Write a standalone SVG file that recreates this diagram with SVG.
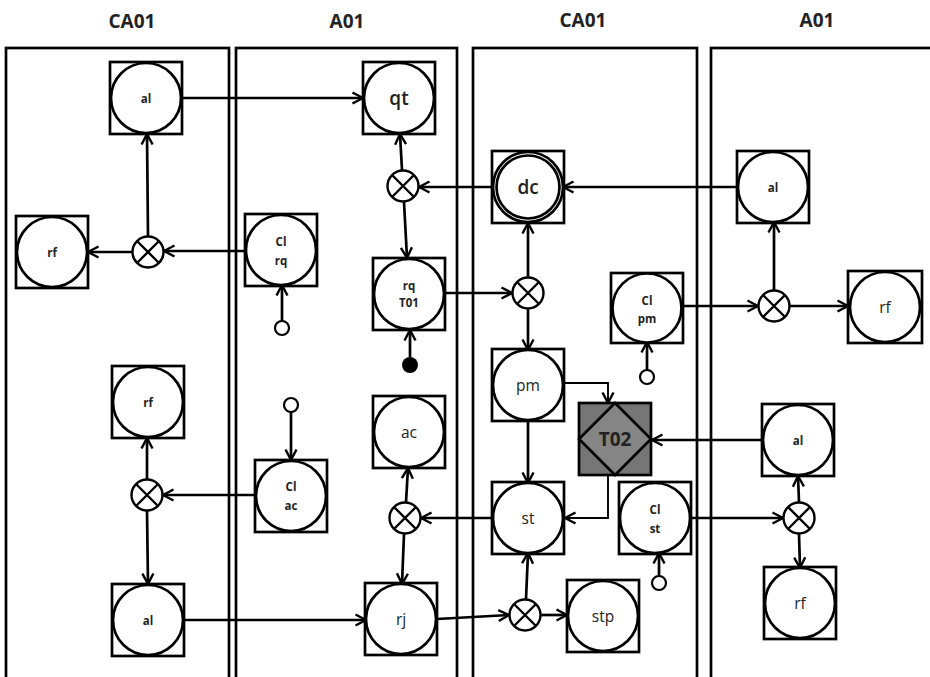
<svg xmlns="http://www.w3.org/2000/svg" width="930" height="677" viewBox="0 0 930 677">
<defs>
<style>
.lane{fill:none;stroke:#000;stroke-width:2.7}
.hdr{font-family:"Open Sans","Liberation Sans",sans-serif;font-weight:bold;font-size:19px;fill:#222;text-anchor:middle}
.sq{fill:#fff;stroke:#000;stroke-width:2.7}
.ci{fill:#fff;stroke:#000;stroke-width:2.7}
.lb{font-family:"Open Sans","Liberation Sans",sans-serif;fill:#222;text-anchor:middle;dominant-baseline:central}
.s{font-size:11.5px;font-weight:bold}
.m{font-size:15.5px}
.l{font-size:19px;font-weight:600}
.x{fill:#fff;stroke:#000;stroke-width:2.4}
.xl{stroke:#000;stroke-width:2.4}
.c{fill:none;stroke:#000;stroke-width:2.7;marker-end:url(#a)}
.t{fill:none;stroke:#000;stroke-width:1.9;marker-end:url(#a)}
.dot{fill:#fff;stroke:#000;stroke-width:2.2}
</style>
<marker id="a" viewBox="0 0 14 14" refX="12.5" refY="7" markerWidth="14" markerHeight="14" orient="auto" markerUnits="userSpaceOnUse">
<path d="M2,1.5 L12.5,7 L2,12.5" fill="none" stroke="#000" stroke-width="2.4"/>
</marker>
<g id="xor">
<circle class="x" r="15.5"/>
<path class="xl" d="M-11,-11 L11,11 M11,-11 L-11,11"/>
</g>
</defs>
<rect width="930" height="677" fill="#fff"/>

<g id="lanes">
<rect class="lane" x="6" y="48" width="223" height="660"/>
<rect class="lane" x="236" y="48" width="221" height="660"/>
<rect class="lane" x="473" y="48" width="224" height="660"/>
<rect class="lane" x="711" y="48" width="240" height="660"/>
<text class="hdr" x="132" y="28">CA01</text>
<text class="hdr" x="347" y="28">A01</text>
<text class="hdr" x="583" y="27">CA01</text>
<text class="hdr" x="817" y="27">A01</text>
</g>

<g id="connectors">
<path class="c" d="M182,98 H363"/>
<path class="c" d="M148,236 L147,134"/>
<path class="c" d="M132,252 H88"/>
<path class="c" d="M245,251 H164"/>
<path class="c" d="M282,321 V285"/>
<path class="c" d="M402,170 L400,134"/>
<path class="c" d="M492,187 H419"/>
<path class="c" d="M404,202 L407,258"/>
<path class="c" d="M445,293 H512"/>
<path class="c" d="M528,277 V223"/>
<path class="c" d="M528,309 V350"/>
<path class="c" d="M737,187 H563"/>
<path class="c" d="M774,290 V222"/>
<path class="c" d="M683,306 H758"/>
<path class="c" d="M790,306 H848"/>
<path class="c" d="M647,370 V342"/>
<path class="c" d="M410,357 V330"/>
<path class="c" d="M147,479 V438"/>
<path class="c" d="M147,511 L148,584"/>
<path class="c" d="M255,495 H163"/>
<path class="c" d="M291,412 V460"/>
<path class="c" d="M185,620 H366"/>
<path class="c" d="M406,502 L408,468"/>
<path class="c" d="M404,534 L402,584"/>
<path class="c" d="M492,518 H421"/>
<path class="c" d="M437,619 L509,615"/>
<path class="c" d="M526,599 L528,553"/>
<path class="c" d="M541,615 H567"/>
<path class="c" d="M528,421 V483"/>
<path class="t" d="M564,383 H608 V403"/>
<path class="t" d="M608,475 V518 H565"/>
<path class="c" d="M762,440 H652"/>
<path class="c" d="M692,518 H783"/>
<path class="c" d="M799,502 L798,476"/>
<path class="c" d="M799,534 L800,568"/>
<path class="c" d="M659,576 V553"/>
</g>

<g id="terminals">
<circle class="dot" cx="282" cy="328" r="7"/>
<circle class="dot" cx="647" cy="377" r="7"/>
<circle cx="410" cy="365" r="8" fill="#000"/>
<circle class="dot" cx="291" cy="405" r="7"/>
<circle class="dot" cx="659" cy="583" r="7"/>
</g>

<g id="xors">
<use href="#xor" x="148" y="252"/>
<use href="#xor" x="403" y="186"/>
<use href="#xor" x="528" y="293"/>
<use href="#xor" x="774" y="306"/>
<use href="#xor" x="147" y="495"/>
<use href="#xor" x="405" y="518"/>
<use href="#xor" x="525" y="615"/>
<use href="#xor" x="799" y="518"/>
</g>

<g id="n-al-ca1" transform="translate(146,98)"><rect class="sq" x="-36" y="-36" width="72" height="72"/><circle class="ci" r="35"/><text class="lb s">al</text></g>
<g id="n-rf-ca1" transform="translate(52,252)"><rect class="sq" x="-36" y="-36" width="72" height="72"/><circle class="ci" r="35"/><text class="lb s">rf</text></g>
<g id="n-clrq" transform="translate(281,250)"><rect class="sq" x="-36" y="-36" width="72" height="72"/><circle class="ci" r="35"/><text class="lb s" y="-9">Cl</text><text class="lb s" y="10">rq</text></g>
<g id="n-qt" transform="translate(399,98)"><rect class="sq" x="-36" y="-36" width="72" height="72"/><circle class="ci" r="35"/><text class="lb l">qt</text></g>
<g id="n-rqT01" transform="translate(409,294)"><rect class="sq" x="-36" y="-36" width="72" height="72"/><circle class="ci" r="35"/><text class="lb s" y="-9">rq</text><text class="lb s" y="8">T01</text></g>
<g id="n-dc" transform="translate(528,187)"><rect class="sq" x="-36" y="-36" width="72" height="72"/><circle class="ci" r="35"/><circle class="ci" r="31.5" stroke-width="1.8"/><text class="lb l">dc</text></g>
<g id="n-clpm" transform="translate(647,308)"><rect class="sq" x="-36" y="-35" width="72" height="70"/><circle class="ci" r="34.5"/><text class="lb s" y="-8">Cl</text><text class="lb s" y="10">pm</text></g>
<g id="n-al-a2" transform="translate(773,187)"><rect class="sq" x="-36" y="-36" width="72" height="72"/><circle class="ci" r="35"/><text class="lb s">al</text></g>
<g id="n-rf-a2" transform="translate(885,307)"><rect class="sq" x="-37" y="-36" width="74" height="72"/><circle class="ci" r="35"/><text class="lb m">rf</text></g>

<g id="n-rf-ca1b" transform="translate(148,402)"><rect class="sq" x="-36" y="-36" width="72" height="72"/><circle class="ci" r="35"/><text class="lb s">rf</text></g>
<g id="n-al-ca1b" transform="translate(148,620)"><rect class="sq" x="-36" y="-36" width="72" height="72"/><circle class="ci" r="35"/><text class="lb s">al</text></g>
<g id="n-clac" transform="translate(291,496)"><rect class="sq" x="-36" y="-36" width="72" height="72"/><circle class="ci" r="35"/><text class="lb s" y="-10">Cl</text><text class="lb s" y="9">ac</text></g>
<g id="n-ac" transform="translate(409,432)"><rect class="sq" x="-36" y="-36" width="72" height="72"/><circle class="ci" r="35"/><text class="lb m">ac</text></g>
<g id="n-rj" transform="translate(401,619)"><rect class="sq" x="-36" y="-36" width="72" height="72"/><circle class="ci" r="35"/><text class="lb m">rj</text></g>
<g id="n-pm" transform="translate(528,385)"><rect class="sq" x="-36" y="-36" width="72" height="72"/><circle class="ci" r="35"/><text class="lb m">pm</text></g>
<g id="n-T02" transform="translate(615,439)"><rect x="-36" y="-36" width="72" height="72" fill="#767676" stroke="#000" stroke-width="2.7"/><path d="M0,-36 L36,0 L0,36 L-36,0 Z" fill="#858585" stroke="#000" stroke-width="2.7"/><text class="lb l" fill="#111" style="font-weight:bold">T02</text></g>
<g id="n-st" transform="translate(528,518)"><rect class="sq" x="-36" y="-36" width="72" height="72"/><circle class="ci" r="35"/><text class="lb m">st</text></g>
<g id="n-clst" transform="translate(655,518)"><rect class="sq" x="-36" y="-36" width="72" height="72"/><circle class="ci" r="35"/><text class="lb s" y="-9">Cl</text><text class="lb s" y="10">st</text></g>
<g id="n-stp" transform="translate(603,616)"><rect class="sq" x="-36" y="-36" width="72" height="72"/><circle class="ci" r="35"/><text class="lb m">stp</text></g>
<g id="n-al-a2b" transform="translate(798,440)"><rect class="sq" x="-36" y="-36" width="72" height="72"/><circle class="ci" r="35"/><text class="lb s">al</text></g>
<g id="n-rf-a2b" transform="translate(800,603)"><rect class="sq" x="-36" y="-36" width="72" height="72"/><circle class="ci" r="35"/><text class="lb m">rf</text></g>
</svg>
